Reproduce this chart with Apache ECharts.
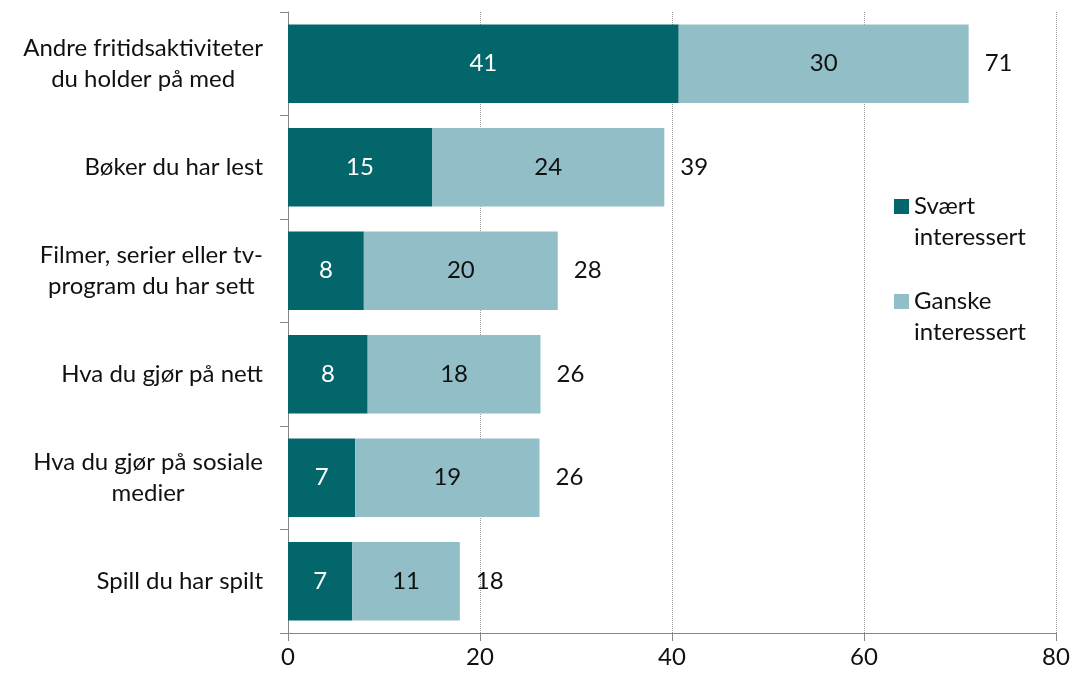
<!DOCTYPE html>
<html>
<head>
<meta charset="utf-8">
<script src="https://cdn.jsdelivr.net/npm/echarts@6/dist/echarts.min.js"></script>
<style>html,body{margin:0;padding:0;background:#fff;}#main{width:1073px;height:676px;}</style>
</head>
<body>
<div id="main"></div>
<script>
const categories = [
  'Andre fritidsaktiviteter\ndu holder på med',
  'Bøker du har lest',
  'Filmer, serier eller tv-\nprogram du har sett',
  'Hva du gjør på nett',
  'Hva du gjør på sosiale\nmedier',
  'Spill du har spilt'
];
const seriesNames = ['Svært interessert', 'Ganske interessert'];
const svaert = [40.7, 15.0, 7.9, 8.3, 7.0, 6.7];
const ganske = [30.2, 24.2, 20.2, 18.0, 19.2, 11.2];
const xTicks = [0, 20, 40, 60, 80];

const totals = svaert.map((v, i) => v + ganske[i]);
const FONT = 'Lato';
const FS = 24;
const chart = echarts.init(document.getElementById('main'), null, {renderer: 'canvas'});
chart.setOption({
  animation: false,
  textStyle: {fontFamily: FONT},
  grid: {left: 288, right: 17, top: 12, bottom: 43, containLabel: false},
  legend: {
    data: seriesNames,
    orient: 'vertical',
    left: 889,
    top: 155,
    itemWidth: 15,
    itemHeight: 15,
    itemGap: 2,
    icon: 'rect',
    formatter: n => ' \n' + n.replace(' ', '\n'),
    textStyle: {fontFamily: FONT, fontSize: FS, color: '#111', lineHeight: 31}
  },
  xAxis: {
    type: 'value',
    min: xTicks[0],
    max: xTicks[xTicks.length - 1],
    interval: 20,
    axisLine: {show: true, lineStyle: {color: '#868686', width: 1}},
    axisTick: {show: true, length: 8, lineStyle: {color: '#868686'}},
    axisLabel: {fontFamily: FONT, fontSize: FS, color: '#111', margin: 12},
    splitLine: {show: true, lineStyle: {color: '#9a9a9a', type: 'dotted', width: 1}}
  },
  yAxis: {
    type: 'category',
    data: categories,
    inverse: true,
    axisLine: {show: true, lineStyle: {color: '#868686', width: 1}},
    axisTick: {show: true, length: 8, lineStyle: {color: '#868686'}},
    axisLabel: {
      fontFamily: FONT, fontSize: FS, color: '#111', margin: 25, lineHeight: 31,
      formatter: v => v.split('\n').map(s => '{c|' + s + '}').join('\n'),
      rich: {c: {align: 'center', fontFamily: FONT, fontSize: FS, color: '#111', lineHeight: 31}}
    }
  },
  series: [
    {
      name: seriesNames[0], type: 'bar', stack: 'total', data: svaert,
      barCategoryGap: '24%',
      itemStyle: {color: '#02666A'},
      label: {show: true, position: 'inside', color: '#fff', fontFamily: FONT, fontSize: FS,
        formatter: p => Math.round(p.value)}
    },
    {
      name: seriesNames[1], type: 'bar', stack: 'total', data: ganske,
      itemStyle: {color: '#92BEC7'},
      label: {show: true, position: 'inside', color: '#111', fontFamily: FONT, fontSize: FS,
        formatter: p => Math.round(p.value)}
    },
    {
      name: 'Totalt', type: 'bar', stack: 'total', data: totals.map(() => 0),
      silent: true,
      itemStyle: {color: 'transparent'},
      label: {show: true, position: 'right', distance: 16, color: '#111', fontFamily: FONT, fontSize: FS,
        formatter: p => Math.round(totals[p.dataIndex])}
    }
  ]
});
</script>
</body>
</html>
